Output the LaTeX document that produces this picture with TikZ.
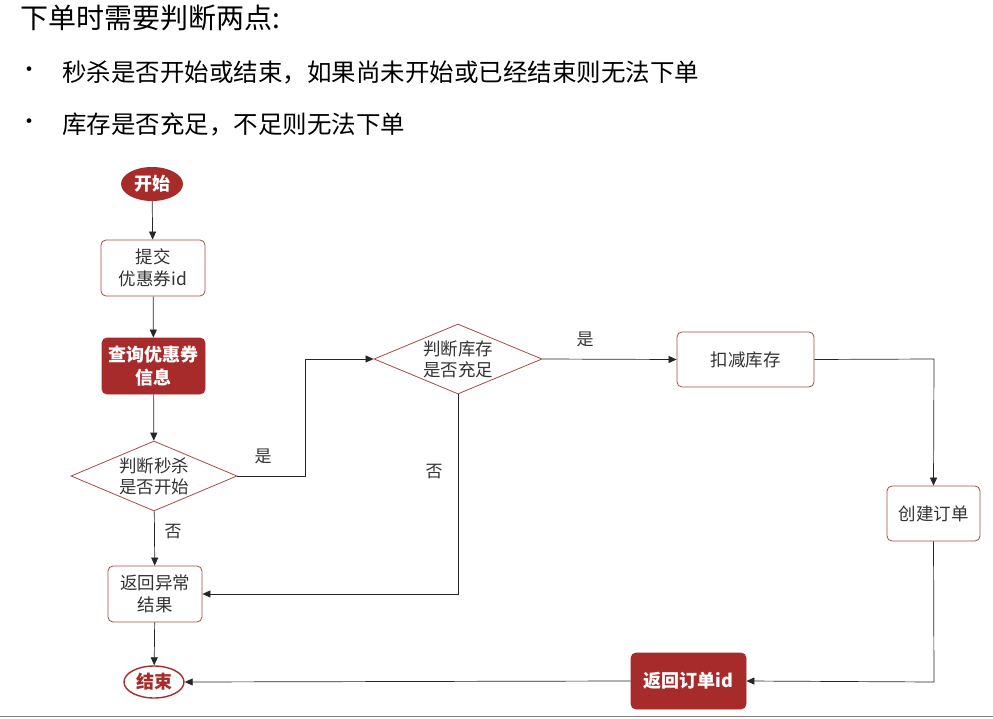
\documentclass[tikz,border=0pt]{standalone}
\usepackage{fontspec}
\setmainfont{Noto Sans CJK SC}
\usetikzlibrary{shapes.geometric,arrows.meta}
\definecolor{dred}{HTML}{A82B2B}
\definecolor{bred}{HTML}{A84A46}
\tikzset{
 box/.style={draw=bred,line width=0.8pt,rounded corners=5pt,fill=white,align=center,font=\fontsize{17.5}{22}\selectfont,text=black!80,inner sep=0pt},
 fbox/.style={box,fill=dred,draw=dred,text=white,font=\fontsize{18}{23}\selectfont\bfseries},
 dia/.style={diamond,draw=bred,line width=0.8pt,aspect=2.4,align=center,font=\fontsize{17.5}{21}\selectfont,text=black!80,inner sep=0pt},
 arr/.style={-{Triangle[length=8pt,width=7pt]},black!85,line width=0.7pt},
 lab/.style={font=\fontsize{17}{20}\selectfont,text=black!80}
}
\begin{document}
\begin{tikzpicture}[x=1pt,y=-1pt]
\useasboundingbox (0,0) rectangle (993,719);
\node[anchor=west,font=\fontsize{28}{32}\selectfont,inner sep=0pt] (t) at (20,18) {下单时需要判断两点:};
\node[anchor=west,font=\fontsize{24.5}{28}\selectfont,inner sep=0pt] (b1) at (62,72) {秒杀是否开始或结束，如果尚未开始或已经结束则无法下单};
\node[anchor=west,font=\fontsize{24.5}{28}\selectfont,inner sep=0pt] (b2) at (62,124) {库存是否充足，不足则无法下单};
\node[font=\fontsize{22}{24}\selectfont] (d1) at (29,72) {•};
\node[font=\fontsize{22}{24}\selectfont] (d2) at (29,124) {•};
\draw[black!50,line width=1pt] (0,716) -- (993,716);

\node[ellipse,fill=dred,text=white,minimum width=62pt,minimum height=34pt,inner sep=0pt,font=\fontsize{18}{22}\selectfont\bfseries] (s) at (152,184) {开始};
\node[box,minimum width=104pt,minimum height=56pt] (p) at (153,268) {提交\\优惠券id};
\node[fbox,minimum width=103pt,minimum height=56pt] (q) at (153.5,366) {查询优惠券\\信息};
\node[dia,minimum width=166pt,minimum height=70pt] (j1) at (154,476) {判断秒杀\\是否开始};
\node[box,minimum width=94pt,minimum height=56pt] (r) at (155,594) {返回异常\\结果};
\node[ellipse,draw=dred,line width=1.4pt,fill=white,minimum width=60pt,minimum height=32pt,inner sep=0pt,font=\fontsize{18}{22}\selectfont\bfseries,text=dred] (e) at (154,682) {结束};
\node[dia,minimum width=168pt,minimum height=70pt] (j2) at (458,359) {判断库存\\是否充足};
\node[box,minimum width=137pt,minimum height=55pt] (k) at (745.5,359.5) {扣减库存};
\node[box,minimum width=93pt,minimum height=55pt] (c) at (933.5,513.5) {创建订单};
\node[fbox,minimum width=115pt,minimum height=56pt] (o) at (688.5,681) {返回订单id};

\draw[arr] (s) -- (p);
\draw[arr] (p) -- (q);
\draw[arr] (q) -- (j1);
\draw[arr] (j1) -- (r);
\draw[arr] (j1.east) -- (305,476) -- (305,359) -- (j2.west);
\draw[arr] (j2.south) -- (458,594) -- (r.east);
\draw[arr] (j2.east) -- (k.west);
\draw[arr] (k.east) -- (934,359) -- (c.north);
\draw[arr] (c.south) -- (934,682) -- (o.east);
\draw[arr] (o.west) -- (e.east);
\draw[arr] (r) -- (e);
\node[lab] (l1) at (173,532) {否};
\node[lab] (l2) at (263,456) {是};
\node[lab] (l3) at (434,472) {否};
\node[lab] (l4) at (585,339) {是};
\end{tikzpicture}
\end{document}
